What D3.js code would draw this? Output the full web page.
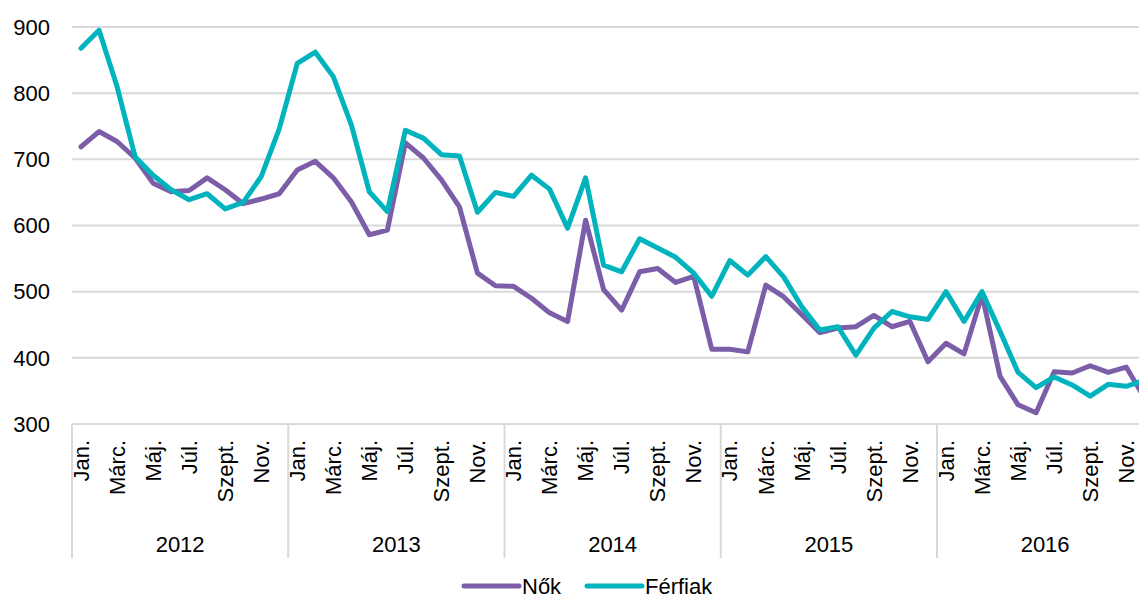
<!DOCTYPE html>
<html>
<head>
<meta charset="utf-8">
<script src="https://cdn.jsdelivr.net/npm/d3@7"></script>
<style>
  body { margin: 0; background: #fff; }
  svg { display: block; font-family: "Liberation Sans", Arial, sans-serif; }
</style>
</head>
<body>
<svg id="chart" width="1139" height="601"></svg>
<script>
// data
var years = ["2012", "2013", "2014", "2015", "2016"];
var monthNames = ["Jan.", "Febr.", "Márc.", "Ápr.", "Máj.", "Jún.", "Júl.", "Aug.", "Szept.", "Okt.", "Nov.", "Dec."];
var yTicks = [300, 400, 500, 600, 700, 800, 900];

var nok = [719, 742, 727, 702, 664, 651, 653, 672, 654, 633, 640, 648,
           684, 697, 672, 636, 586, 593, 725, 702, 669, 628, 528, 509,
           508, 490, 468, 455, 608, 503, 472, 530, 535, 514, 523, 413,
           413, 409, 510, 492, 465, 438, 445, 447, 464, 447, 455, 394,
           422, 406, 495, 372, 329, 317, 379, 377, 388, 378, 386, 340];

var ferfiak = [868, 895, 810, 704, 676, 654, 639, 648, 625, 635, 674, 746,
               845, 862, 825, 752, 651, 621, 744, 732, 707, 705, 620, 650,
               644, 676, 655, 596, 672, 540, 530, 580, 566, 552, 528, 493,
               547, 525, 553, 522, 477, 442, 447, 404, 445, 470, 462, 458,
               500, 455, 500, 440, 378, 355, 371, 359, 342, 360, 357, 366];

var series = [
  { name: "Nők", values: nok, color: "#7b5ea7" },
  { name: "Férfiak", values: ferfiak, color: "#00b3bd" }
];

// chart settings
var plotLeft = 72, yearWidth = 216.25;
var plotTop = 27, plotBottom = 424;
var gridColor = "#d9d9d9";

var keys = [];
years.forEach(function(y) {
  monthNames.forEach(function(m, i) { keys.push(y + "-" + i); });
});

var svg = d3.select("#chart");

var xScale = d3.scaleBand()
  .domain(keys)
  .range([plotLeft, plotLeft + yearWidth * years.length])
  .padding(0);

var yearScale = d3.scaleBand()
  .domain(years)
  .range([plotLeft, plotLeft + yearWidth * years.length])
  .padding(0);

var yScale = d3.scaleLinear()
  .domain([300, 900])
  .range([plotBottom, plotTop]);

function xc(k) { return xScale(k) + xScale.bandwidth() / 2; }

// gridlines
svg.append("g")
  .selectAll("line")
  .data(yTicks)
  .enter()
  .append("line")
  .attr("x1", plotLeft)
  .attr("x2", 1139)
  .attr("y1", function(d) { return yScale(d); })
  .attr("y2", function(d) { return yScale(d); })
  .attr("stroke", gridColor)
  .attr("stroke-width", 2);

// y labels
svg.append("g")
  .selectAll("text")
  .data(yTicks)
  .enter()
  .append("text")
  .attr("x", 50)
  .attr("y", function(d) { return yScale(d); })
  .attr("dy", "0.35em")
  .attr("text-anchor", "end")
  .attr("font-size", "22px")
  .attr("fill", "#000")
  .text(function(d) { return d; });

// year separators
var seps = years.map(function(y) { return yearScale(y); });
svg.append("g")
  .selectAll("line")
  .data(seps)
  .enter()
  .append("line")
  .attr("x1", function(d) { return d; })
  .attr("x2", function(d) { return d; })
  .attr("y1", plotBottom)
  .attr("y2", 558)
  .attr("stroke", gridColor)
  .attr("stroke-width", 2);

// month labels (every other month)
svg.append("g")
  .selectAll("text")
  .data(keys.filter(function(k, i) { return i % 2 === 0; }))
  .enter()
  .append("text")
  .attr("transform", function(k) {
    return "translate(" + xc(k) + "," + 440 + ") rotate(-90)";
  })
  .attr("dy", "0.35em")
  .attr("text-anchor", "end")
  .attr("font-size", "22px")
  .attr("fill", "#000")
  .text(function(k) { return monthNames[+k.split("-")[1]]; });

// year labels
svg.append("g")
  .selectAll("text")
  .data(years)
  .enter()
  .append("text")
  .attr("x", function(d) { return yearScale(d) + yearScale.bandwidth() / 2; })
  .attr("y", 544)
  .attr("dy", "0.35em")
  .attr("text-anchor", "middle")
  .attr("font-size", "22px")
  .attr("fill", "#000")
  .text(function(d) { return d; });

// lines
var line = d3.line()
  .x(function(d, i) { return xc(keys[i]); })
  .y(function(d) { return yScale(d); });

svg.append("g")
  .selectAll("path")
  .data(series)
  .enter()
  .append("path")
  .attr("d", function(s) { return line(s.values); })
  .attr("fill", "none")
  .attr("stroke", function(s) { return s.color; })
  .attr("stroke-width", 5)
  .attr("stroke-linejoin", "round")
  .attr("stroke-linecap", "round");

// legend
var legendX = [464, 587];
var legend = svg.append("g")
  .selectAll("g")
  .data(series)
  .enter()
  .append("g")
  .attr("transform", function(s, i) { return "translate(" + legendX[i] + ",586)"; });

legend.append("line")
  .attr("x1", 0)
  .attr("x2", 55)
  .attr("stroke", function(s) { return s.color; })
  .attr("stroke-width", 5)
  .attr("stroke-linecap", "round");

legend.append("text")
  .attr("x", 58)
  .attr("dy", "0.35em")
  .attr("font-size", "22px")
  .attr("fill", "#000")
  .text(function(s) { return s.name; });
</script>
</body>
</html>
